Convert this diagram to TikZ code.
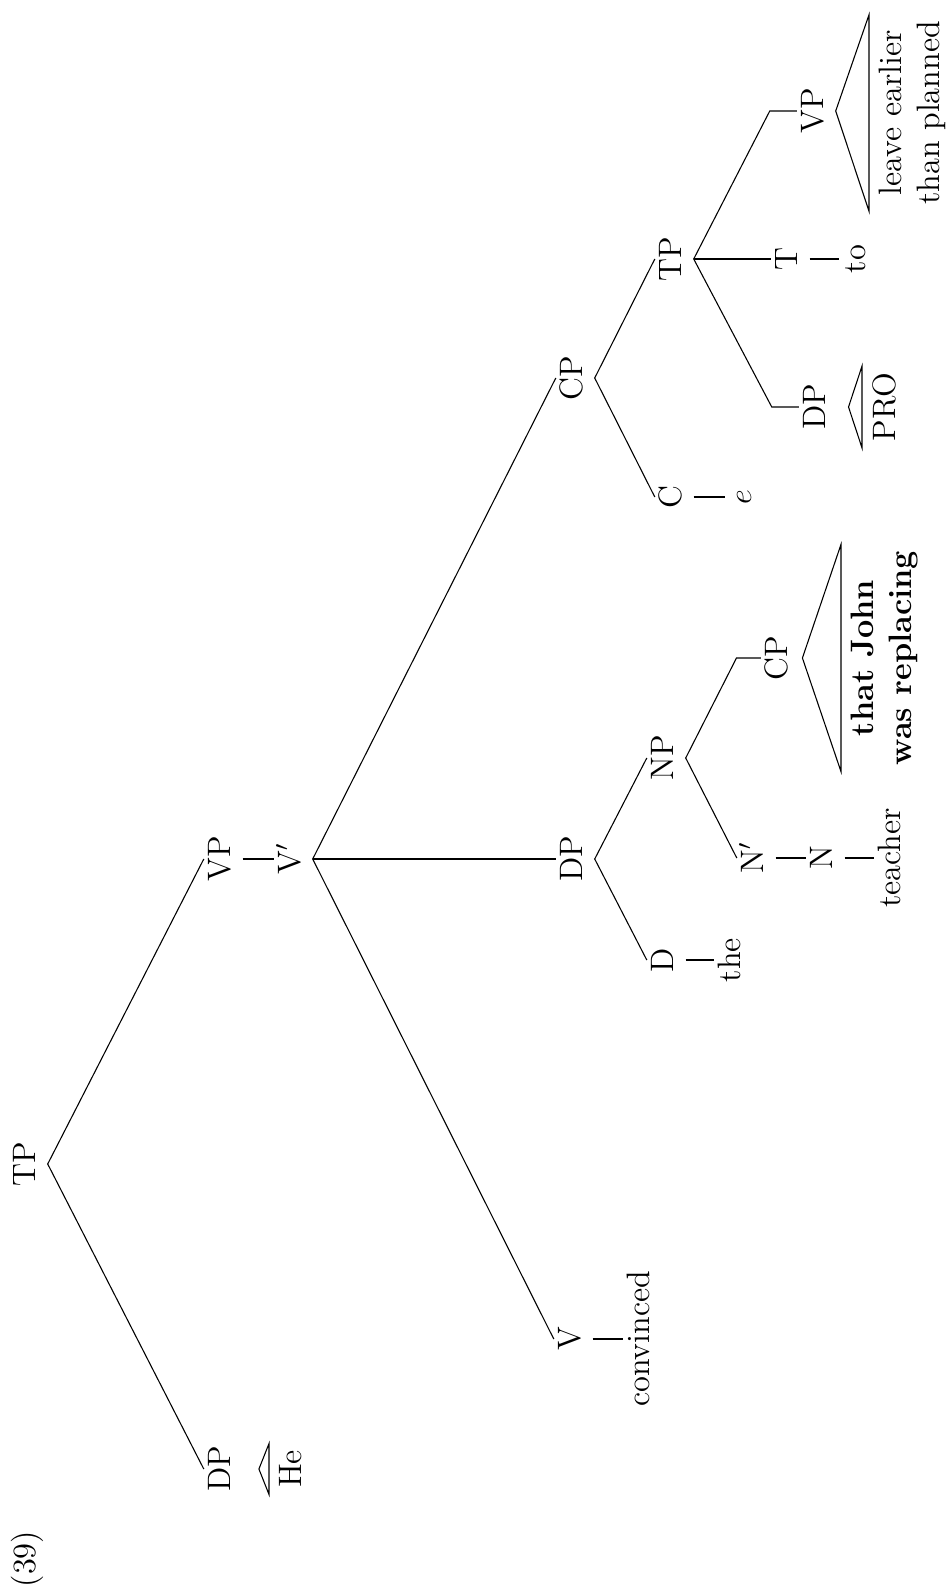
\documentclass[tikz,border=0pt]{standalone}
\usepackage{amsmath}
\usepackage{tikz}

\begin{document}
\begin{tikzpicture}[
    x=0.37pt, y=-0.37pt,
    every node/.style={rotate=90, inner sep=1pt, font=\large},
    cat/.style={anchor=base, text height=8.5pt, text depth=3.5pt},
    roof/.style={anchor=north, inner xsep=2.2pt, inner ysep=3.6pt, align=center}
]
\useasboundingbox (0,0) rectangle (949,1591);
\node (ex) at (27,1559) {(39)};
\node[cat] (tpa) at (35,1164) {TP};
\node[cat] (dpa) at (230,1469) {DP};
\node[roof] (he) at (269,1469) {He};
\node[cat] (vpa) at (230,859) {VP};
\node[cat] (vbar) at (300,859) {V$'$};
\node[cat] (v) at (580,1339) {V};
\node[cat] (convinced) at (649,1339) {convinced};
\node[cat] (dpb) at (582,859) {DP};
\node[cat] (d) at (673,960) {D};
\node[cat] (the) at (740,960) {the};
\node[cat] (np) at (673,758) {NP};
\node[cat] (nbar) at (763,858) {N$'$};
\node[cat] (n) at (832,858) {N};
\node[cat] (teacher) at (900,858) {teacher};
\node[cat] (cpb) at (787,658) {CP};
\node[roof] (rel) at (841,658) {\textbf{that John}\\\textbf{was replacing}};
\node[cat] (cpa) at (582,378) {CP};
\node[cat] (c) at (681,497) {C};
\node[cat] (e) at (751,497) {$e$};
\node[cat] (tpb) at (681,259) {TP};
\node[cat] (dpc) at (825,407) {DP};
\node[roof] (pro) at (862,407) {PRO};
\node[cat] (t) at (797,259) {T};
\node[cat] (to) at (865,259) {to};
\node[cat] (vpb) at (823,111) {VP};
\node[roof] (leave) at (869,113) {leave earlier\\than planned};

\draw (tpa.south) -- (dpa.north);
\draw (tpa.south) -- (vpa.north);
\draw (vpa.south) -- (vbar.north);
\draw (vbar.south) -- (v.north);
\draw (vbar.south) -- (dpb.north);
\draw (vbar.south) -- (cpa.north);
\draw (v.south) -- (convinced.north);
\draw (dpb.south) -- (d.north);
\draw (dpb.south) -- (np.north);
\draw (d.south) -- (the.north);
\draw (np.south) -- (nbar.north);
\draw (np.south) -- ([xshift=-9pt]cpb.north) -- (cpb.north);
\draw (nbar.south) -- (n.north);
\draw (n.south) -- (teacher.north);
\draw (cpa.south) -- (c.north);
\draw (cpa.south) -- (tpb.north);
\draw (c.south) -- (e.north);
\draw (tpb.south) -- ([xshift=-10pt]dpc.north) -- (dpc.north);
\draw (tpb.south) -- (t.north);
\draw (t.south) -- (to.north);
\draw (tpb.south) -- ([xshift=-10pt]vpb.north) -- (vpb.north);

\draw ([xshift=6pt]dpa.south) -- (he.north west) -- (he.north east) -- cycle;
\draw ([xshift=1pt]cpb.south) -- (rel.north west) -- (rel.north east) -- cycle;
\draw ([xshift=4pt]dpc.south) -- (pro.north west) -- (pro.north east) -- cycle;
\draw (vpb.south) -- (leave.north west) -- (leave.north east) -- cycle;
\end{tikzpicture}
\end{document}
